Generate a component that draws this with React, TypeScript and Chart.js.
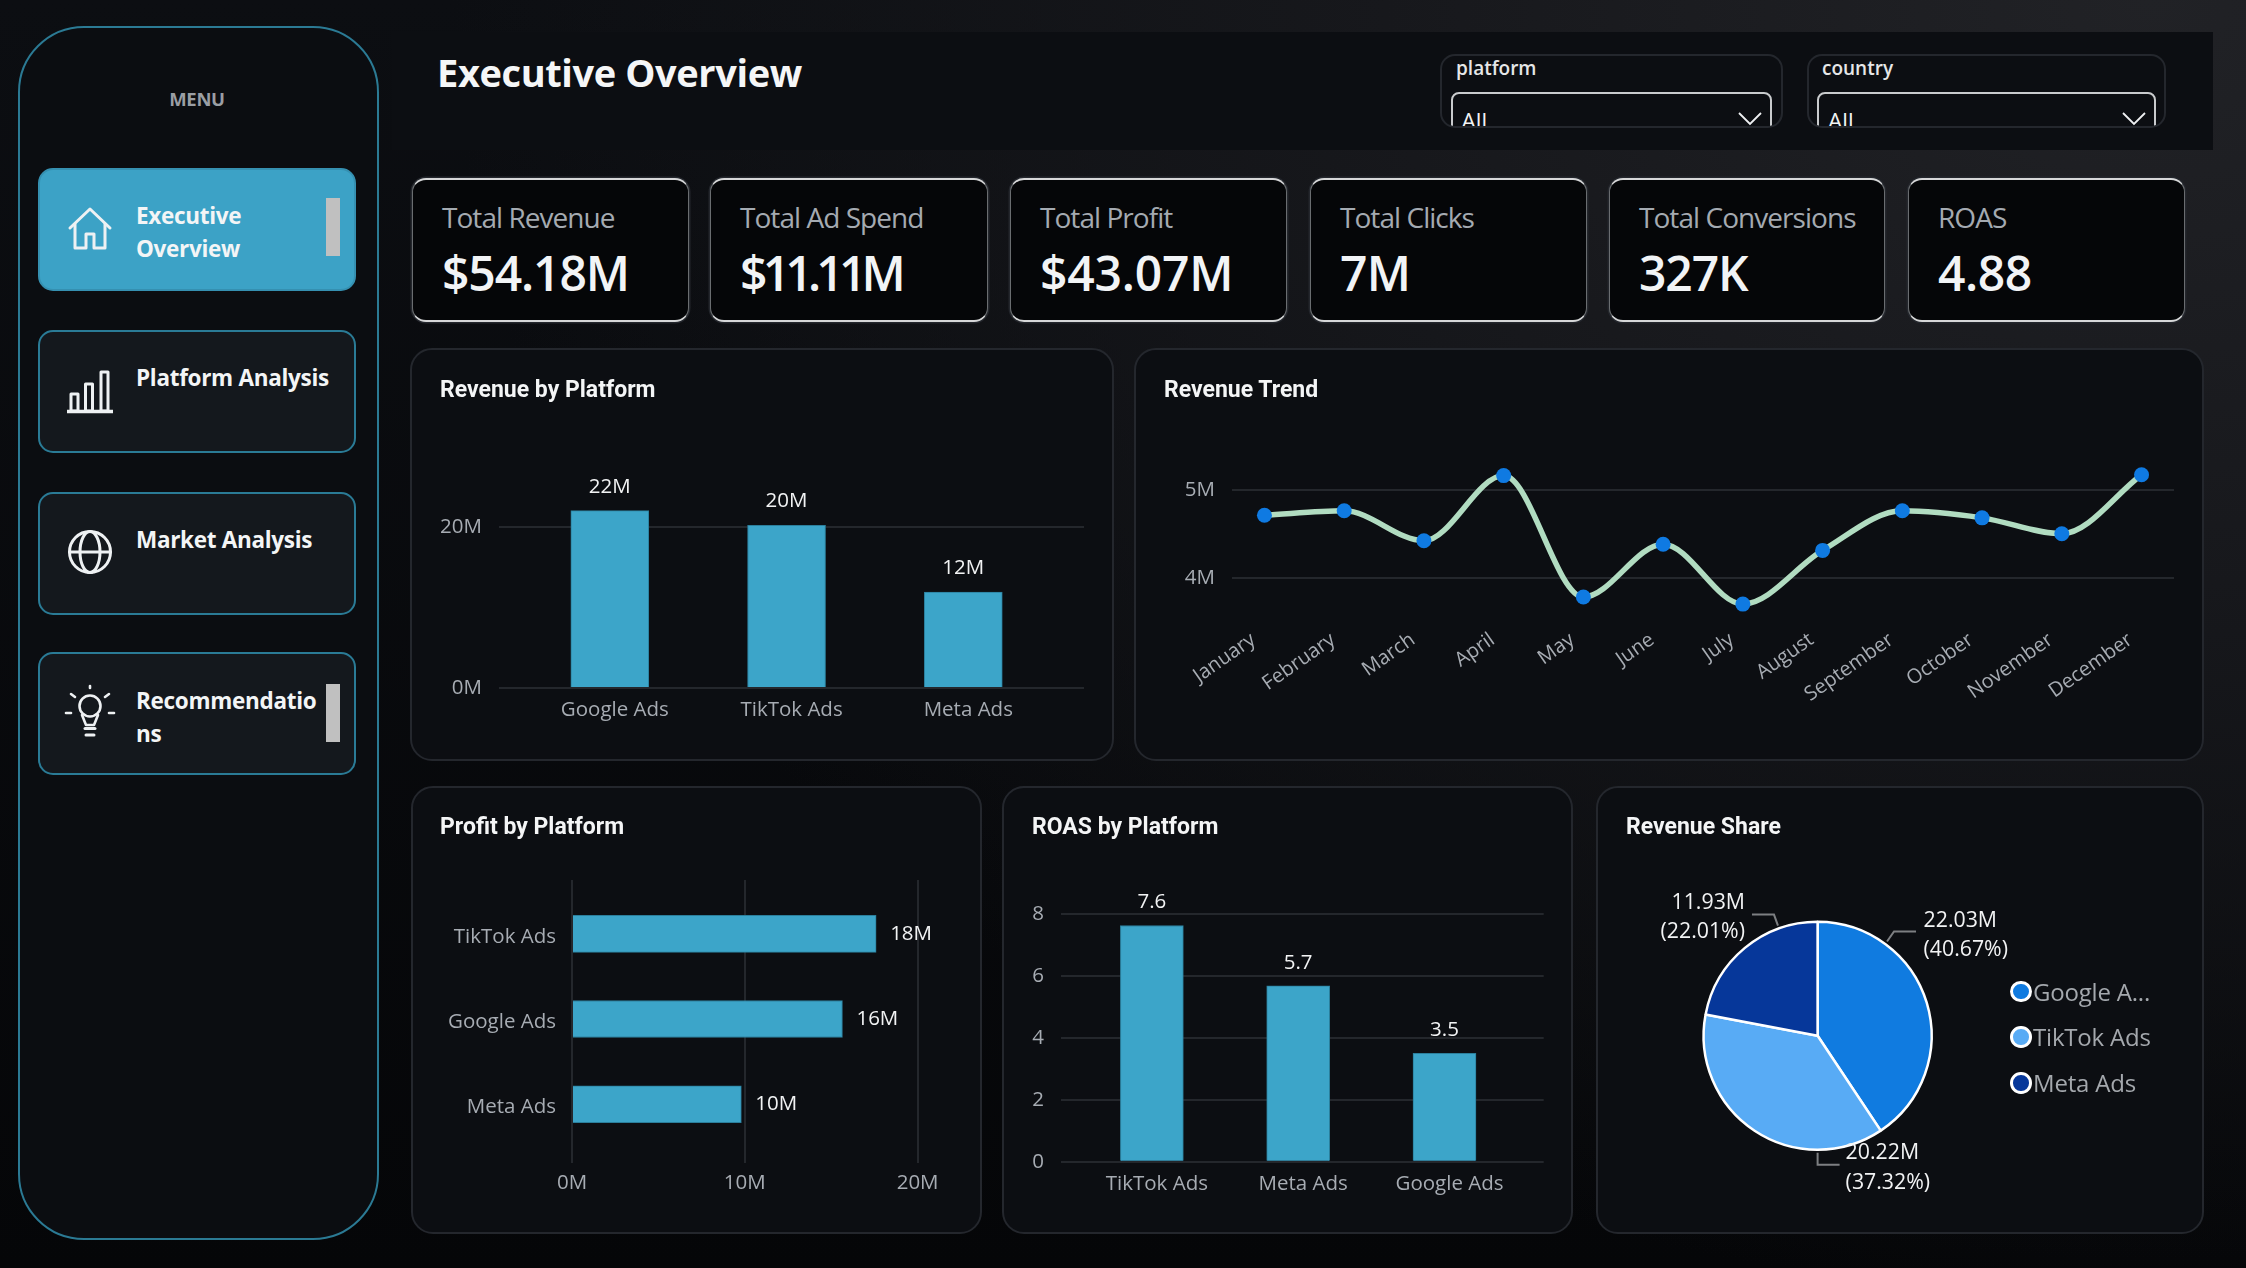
import React, { useEffect, useRef } from "react";
import { Chart, registerables } from "chart.js";

Chart.register(...registerables);

const FONT = '"Open Sans", sans-serif';
const TITLE_FONT = 'Roboto, sans-serif';

const revenueCategories = ["Google Ads", "TikTok Ads", "Meta Ads"];
const revenueValues = [22.03, 20.22, 11.93];
const months = ["January", "February", "March", "April", "May", "June", "July", "August", "September", "October", "November", "December"];
const trendValues = [4.71, 4.76, 4.42, 5.16, 3.78, 4.38, 3.7, 4.31, 4.76, 4.68, 4.5, 5.17];
const profitCategories = ["TikTok Ads", "Google Ads", "Meta Ads"];
const profitValues = [17.6, 15.65, 9.8];
const roasCategories = ["TikTok Ads", "Meta Ads", "Google Ads"];
const roasValues = [7.63, 5.68, 3.5];
const shareCategories = ["Google Ads", "TikTok Ads", "Meta Ads"];
const shareLegend = ["Google A...", "TikTok Ads", "Meta Ads"];
const shareValues = [22.03, 20.22, 11.93];
const sharePercents = ["40.67", "37.32", "22.01"];
const shareColors = ["#107be0", "#58abf5", "#06379a"];
const kpiLabels = ["Total Revenue", "Total Ad Spend", "Total Profit", "Total Clicks", "Total Conversions", "ROAS"];
const kpiValues = ["$54.18M", "$11.11M", "$43.07M", "7M", "327K", "4.88"];
const kpiLefts = [412, 710, 1010, 1310, 1609, 1908];
const kpiWidths = [277, 278, 277, 277, 276, 277];
const kpiValueSpacing = [-1.1, -4.8, -0.2, -0.8, -1.1, -0.4];

const TICK = "#a7acb3";
const GRID = "#24272c";
const BAR = "#3ca5c9";
const BAR_EDGE = "#2b7f9c";
const LABEL = "#f2f3f4";

type Rect = { x0: number; y0: number; x1: number; y1: number };

const abs = (x: number, y: number, w: number, h: number): React.CSSProperties => ({ position: "absolute", left: x, top: y, width: w, height: h, boxSizing: "border-box" });

function fixTicks(values: number[]) {
  return (axis: any) => { axis.ticks = values.map((value) => ({ value })); };
}

function frame(panel: Rect, plot: Rect) {
  return {
    padding: { top: plot.y0 - panel.y0, right: panel.x1 - plot.x1, left: 0, bottom: 0 },
    yFit: (s: any) => { s.width = plot.x0 - panel.x0; },
    xFit: (s: any) => { s.height = panel.y1 - plot.y1; },
  };
}

function valueLabels(text: (v: number) => string, horizontal = false, gap = 17) {
  return {
    id: "valueLabels",
    afterDatasetsDraw(chart: any) {
      const ctx = chart.ctx;
      const meta = chart.getDatasetMeta(0);
      ctx.save();
      ctx.fillStyle = LABEL;
      ctx.font = `20.5px ${FONT}`;
      meta.data.forEach((el: any, i: number) => {
        const raw = chart.data.datasets[0].data[i];
        const v = horizontal ? raw.x : raw.y;
        if (horizontal) {
          ctx.textAlign = "left";
          ctx.textBaseline = "middle";
          ctx.fillText(text(v), el.x + gap, el.y);
        } else {
          ctx.textAlign = "center";
          ctx.textBaseline = "alphabetic";
          ctx.fillText(text(v), el.x, el.y - gap);
        }
      });
      ctx.restore();
    },
  };
}

function usePanelChart(build: () => any) {
  const ref = useRef<HTMLCanvasElement>(null);
  useEffect(() => {
    const chart = new Chart(ref.current as HTMLCanvasElement, build());
    return () => chart.destroy();
  }, []);
  return ref;
}

const tickFont = { family: FONT, size: 20.5 };

function revenueConfig(panel: Rect) {
  const plot = { x0: 499, y0: 446.5, x1: 1084, y1: 688 };
  const f = frame(panel, plot);
  return {
    type: "bar",
    data: { datasets: [{ data: revenueValues.map((y, x) => ({ x, y })), backgroundColor: BAR, borderColor: BAR_EDGE, borderWidth: 1, barThickness: 78 }] },
    options: {
      responsive: false, animation: false, layout: { padding: f.padding },
      plugins: { legend: { display: false }, tooltip: { enabled: false } },
      scales: {
        x: { type: "linear", offset: false, min: -0.627, max: 2.683, afterBuildTicks: fixTicks([0, 1, 2]), afterFit: f.xFit, grid: { display: false, offset: false }, border: { display: false },
          ticks: { color: TICK, font: tickFont, padding: 2, labelOffset: 5, maxRotation: 0, autoSkip: false, callback: (v: number) => revenueCategories[v] } },
        y: { min: 0, max: 30, afterBuildTicks: fixTicks([0, 20]), afterFit: f.yFit, grid: { color: GRID, lineWidth: 2, drawTicks: false }, border: { display: false },
          ticks: { color: TICK, font: tickFont, padding: 17, callback: (v: number) => `${v}M` } },
      },
    },
    plugins: [valueLabels((v) => `${Math.round(v)}M`, false, 18)],
  };
}

function trendConfig(panel: Rect) {
  const plot = { x0: 1232, y0: 436, x1: 2174, y1: 620 };
  const f = frame(panel, plot);
  const perM = 88;
  const minV = 4 - (plot.y1 - 577.7) / perM;
  const maxV = 5 + (489.7 - plot.y0) / perM;
  return {
    type: "line",
    data: { datasets: [{ data: trendValues.map((y, x) => ({ x, y })), borderColor: "#b1dcc1", borderWidth: 5.5, cubicInterpolationMode: "monotone", pointRadius: 7.5, pointBackgroundColor: "#0f7ae2", pointBorderColor: "#0f7ae2", pointBorderWidth: 0, clip: false }] },
    options: {
      responsive: false, animation: false, layout: { padding: f.padding },
      plugins: { legend: { display: false }, tooltip: { enabled: false } },
      scales: {
        x: { type: "linear", min: -0.407, max: 11.407, afterBuildTicks: fixTicks(months.map((_, i) => i)), afterFit: f.xFit, grid: { display: false }, border: { display: false },
          ticks: { color: TICK, font: { family: FONT, size: 20 }, padding: 0, labelOffset: -11, minRotation: 35, maxRotation: 35, autoSkip: false, callback: (v: number) => months[v] } },
        y: { min: minV, max: maxV, afterBuildTicks: fixTicks([4, 5]), afterFit: f.yFit, grid: { color: GRID, lineWidth: 2, drawTicks: false }, border: { display: false },
          ticks: { color: TICK, font: tickFont, padding: 17, callback: (v: number) => `${v}M` } },
      },
    },
  };
}

function profitConfig(panel: Rect) {
  const plot = { x0: 572, y0: 880, x1: 917.6, y1: 1163 };
  const f = frame(panel, plot);
  return {
    type: "bar",
    data: { datasets: [{ data: profitValues.map((x, y) => ({ x, y })), backgroundColor: BAR, borderColor: BAR_EDGE, borderWidth: 1, barThickness: 37 }] },
    options: {
      indexAxis: "y",
      responsive: false, animation: false, layout: { padding: f.padding },
      plugins: { legend: { display: false }, tooltip: { enabled: false } },
      scales: {
        x: { min: 0, max: 20, afterBuildTicks: fixTicks([0, 10, 20]), afterFit: f.xFit, grid: { color: GRID, lineWidth: 2, drawTicks: false }, border: { display: false },
          ticks: { color: TICK, font: tickFont, padding: 7.5, maxRotation: 0, callback: (v: number) => `${v}M` } },
        y: { type: "linear", offset: false, reverse: true, min: -0.632, max: 2.69, afterBuildTicks: fixTicks([0, 1, 2]), afterFit: f.yFit, grid: { display: false, offset: false }, border: { display: false },
          ticks: { color: TICK, font: tickFont, padding: 8, labelOffset: 3, autoSkip: false, callback: (v: number) => profitCategories[v] } },
      },
    },
    plugins: [valueLabels((v) => `${Math.round(v)}M`, true, 14)],
  };
}

function roasConfig(panel: Rect) {
  const plot = { x0: 1061, y0: 914, x1: 1543.7, y1: 1161.7 };
  const f = frame(panel, plot);
  return {
    type: "bar",
    data: { datasets: [{ data: roasValues.map((y, x) => ({ x, y })), backgroundColor: BAR, borderColor: BAR_EDGE, borderWidth: 1, barThickness: 63 }] },
    options: {
      responsive: false, animation: false, layout: { padding: f.padding },
      plugins: { legend: { display: false }, tooltip: { enabled: false } },
      scales: {
        x: { type: "linear", offset: false, min: -0.621, max: 2.678, afterBuildTicks: fixTicks([0, 1, 2]), afterFit: f.xFit, grid: { display: false, offset: false }, border: { display: false },
          ticks: { color: TICK, font: tickFont, padding: 2, labelOffset: 5, maxRotation: 0, autoSkip: false, callback: (v: number) => roasCategories[v] } },
        y: { min: 0, max: 8, afterBuildTicks: fixTicks([0, 2, 4, 6, 8]), afterFit: f.yFit, grid: { color: GRID, lineWidth: 2, drawTicks: false }, border: { display: false },
          ticks: { color: TICK, font: tickFont, padding: 17, callback: (v: number) => `${v}` } },
      },
    },
    plugins: [valueLabels((v) => v.toFixed(1), false, 17)],
  };
}

const leader = [
  { deg: 36.4, ox: 7, oy: -10, run: 22, tx: 29.5, align: "left" as const, y1: 926.7, y2: 955.7 },
  { deg: 180, ox: 0, oy: 12, run: 22, tx: 28, align: "left" as const, y1: 1159, y2: 1189 },
  { deg: -19.8, ox: -4, oy: -11, run: -22, tx: -29, align: "right" as const, y1: 909, y2: 938 },
];

const pieLabels = {
  id: "pieLabels",
  afterDatasetsDraw(chart: any) {
    const ctx = chart.ctx;
    const arc = chart.getDatasetMeta(0).data[0];
    const top = chart.canvas.offsetTop;
    const r = arc.outerRadius + 3;
    ctx.save();
    leader.forEach((l, i) => {
      const a = (l.deg * Math.PI) / 180;
      const sx = arc.x + r * Math.sin(a);
      const sy = arc.y - r * Math.cos(a);
      const mx = sx + l.ox;
      const my = sy + l.oy;
      ctx.strokeStyle = "#7d7f82";
      ctx.lineWidth = 2;
      ctx.beginPath();
      ctx.moveTo(sx, sy);
      ctx.lineTo(mx, my);
      ctx.lineTo(mx + l.run, my);
      ctx.stroke();
      ctx.fillStyle = LABEL;
      ctx.font = `21.3px ${FONT}`;
      ctx.textAlign = l.align;
      ctx.textBaseline = "alphabetic";
      const tx = mx + l.tx;
      ctx.fillText(`${shareValues[i].toFixed(2)}M`, tx, l.y1 - top);
      ctx.fillText(`(${sharePercents[i]}%)`, tx, l.y2 - top);
    });
    ctx.restore();
  },
};

function shareConfig(panel: Rect) {
  const cx = 1817.6, cy = 1035.7, half = 115.25;
  return {
    type: "pie",
    data: { labels: shareCategories, datasets: [{ data: shareValues, backgroundColor: shareColors, borderColor: "#ffffff", borderWidth: 2.5 }] },
    options: {
      responsive: false, animation: false,
      layout: { padding: { left: cx - half - panel.x0, right: panel.x1 - cx - half, top: cy - half - panel.y0, bottom: panel.y1 - cy - half } },
      plugins: { legend: { display: false }, tooltip: { enabled: false } },
    },
    plugins: [pieLabels],
  };
}

function Panel({ box, title, titleX, titleY, build, children }: any) {
  const ref = usePanelChart(() => build(box));
  const w = box.x1 - box.x0, h = box.y1 - box.y0;
  return (
    <>
      <div style={{ ...abs(box.x0, box.y0, w, h), background: "#0c0e12", border: "2px solid #24272d", borderRadius: 22 }} />
      <canvas ref={ref} width={w} height={h} style={{ position: "absolute", left: box.x0, top: box.y0, width: w, height: h }} />
      <div style={{ position: "absolute", left: titleX, top: titleY - 21, height: 28, lineHeight: "28px", font: `700 23px ${TITLE_FONT}`, color: "#f4f5f6", whiteSpace: "nowrap" }}>{title}</div>
      {children}
    </>
  );
}

function Icon({ kind }: { kind: string }) {
  const common = { fill: "none", stroke: "#eef1f3", strokeWidth: 3, strokeLinecap: "round" as const, strokeLinejoin: "round" as const };
  if (kind === "home") return (
    <svg style={{ position: "absolute", left: 64, top: 204 }} width="52" height="50" viewBox="0 0 52 50" {...common}>
      <path d="M6 24 L26 5 L46 24" /><path d="M11 20 V44 H22 V30 H30 V44 H41 V20" />
    </svg>
  );
  if (kind === "bars") return (
    <svg style={{ position: "absolute", left: 64, top: 366 }} width="52" height="50" viewBox="0 0 52 50" {...common} strokeLinecap="butt">
      <path d="M3 45.5 H49" strokeWidth="3.5" /><rect x="7" y="28" width="7" height="17" /><rect x="21.5" y="18" width="7" height="27" /><rect x="37" y="6" width="7" height="39" />
    </svg>
  );
  if (kind === "globe") return (
    <svg style={{ position: "absolute", left: 64, top: 526 }} width="52" height="52" viewBox="0 0 52 52" {...common}>
      <circle cx="26" cy="26" r="20.5" /><ellipse cx="26" cy="26" rx="10" ry="20.5" /><path d="M5.5 26 H46.5" />
    </svg>
  );
  return (
    <svg style={{ position: "absolute", left: 62, top: 684 }} width="56" height="56" viewBox="0 0 56 56" {...common} strokeWidth="2.6">
      <path d="M28 2 V4" /><path d="M9 10 L13 13" /><path d="M47 10 L43 13" /><path d="M4 29 H9" /><path d="M47 29 H52" />
      <circle cx="28" cy="22" r="10.5" /><path d="M20 31 L24 41 H32 L36 31" /><path d="M23 44.5 H33" strokeWidth="3" /><path d="M24 51 H32" strokeWidth="3" />
    </svg>
  );
}

const navItems = [
  { y: 168, h: 123, lines: ["Executive", "Overview"], base: 224, icon: "home", active: true, mark: 198 },
  { y: 330, h: 123, lines: ["Platform Analysis"], base: 386, icon: "bars", active: false, mark: 0 },
  { y: 492, h: 123, lines: ["Market Analysis"], base: 547.5, icon: "globe", active: false, mark: 0 },
  { y: 652, h: 123, lines: ["Recommendatio", "ns"], base: 709, icon: "bulb", active: false, mark: 684 },
];

function Nav() {
  return (
    <>
      <div style={{ ...abs(18, 26, 361, 1214), background: "#0b0d11", border: "2px solid #2b7a94", borderRadius: 66 }} />
      <div style={{ position: "absolute", left: 18, width: 358, top: 88, textAlign: "center", font: `700 18.5px/22px ${FONT}`, color: "#9a9ea4", letterSpacing: -0.3 }}>MENU</div>
      {navItems.map((n) => (
        <React.Fragment key={n.icon}>
          <div style={{ ...abs(38, n.y, 318, n.h), background: n.active ? "#3ca2c6" : "#14181d", border: `2px solid ${n.active ? "#3590b1" : "#2a7b96"}`, borderRadius: 15 }} />
          <Icon kind={n.icon} />
          {n.lines.map((t, i) => (
            <div key={t} style={{ position: "absolute", left: 136, top: n.base - 25 + i * 33, font: `700 22.5px/33px ${FONT}`, color: "#f3f5f6", whiteSpace: "nowrap", letterSpacing: -0.3 }}>{t}</div>
          ))}
          {n.mark ? <div style={{ ...abs(326, n.mark, 14, 58), background: "#c0c0c0" }} /> : null}
        </React.Fragment>
      ))}
    </>
  );
}

function Slicer({ label, x0, x1, ix0, ix1, lx, ax, cx }: any) {
  return (
    <div style={{ ...abs(x0, 54, x1 - x0, 74), border: "2px solid #24272d", borderRadius: 15, overflow: "hidden", background: "#0c0e12" }}>
      <div style={{ position: "absolute", left: lx - x0 - 2, top: 0, font: `600 19px/24px ${FONT}`, color: "#e6e7e8" }}>{label}</div>
      <div style={{ position: "absolute", left: ix0 - x0 - 2, top: 36, width: ix1 - ix0, height: 60, boxSizing: "border-box", border: "2px solid #c9cbcd", borderRadius: 8 }} />
      <div style={{ position: "absolute", left: ax - x0 - 3, top: 50, font: `400 22.5px/30px ${FONT}`, color: "#f2f3f4" }}>All</div>
      <svg style={{ position: "absolute", left: cx - x0 - 2, top: 56 }} width="24" height="14" viewBox="0 0 24 14" fill="none" stroke="#eef0f2" strokeWidth="1.8"><path d="M1 1 L12 12 L23 1" /></svg>
    </div>
  );
}

export default function App() {
  const panels = {
    revenue: { x0: 410, y0: 348, x1: 1114, y1: 761 },
    trend: { x0: 1134, y0: 348, x1: 2204, y1: 761 },
    profit: { x0: 411, y0: 786, x1: 982, y1: 1234 },
    roas: { x0: 1002, y0: 786, x1: 1573, y1: 1234 },
    share: { x0: 1596, y0: 786, x1: 2204, y1: 1234 },
  };
  return (
    <div style={{ position: "relative", width: 2246, height: 1268, overflow: "hidden", background: "radial-gradient(ellipse 1700px 1300px at 2150px 0px, #212226 0%, #17181c 45%, rgba(12,13,16,0) 100%), linear-gradient(180deg, #0c0e12 0%, #050608 100%)" }}>
      <style>{"body{margin:0;background:#08090c}"}</style>
      <Nav />
      <div style={{ ...abs(392, 32, 1821, 118), background: "#0c0e12" }} />
      <div style={{ position: "absolute", left: 437, top: 47, font: `700 38px/50px ${FONT}`, color: "#f5f6f7", whiteSpace: "nowrap", letterSpacing: -0.4 }}>Executive Overview</div>
      <Slicer label="platform" x0={1440} x1={1783} ix0={1450.5} ix1={1772} lx={1456} ax={1462.5} cx={1738} />
      <Slicer label="country" x0={1806.5} x1={2166} ix0={1817} ix1={2155.5} lx={1822} ax={1829} cx={2122} />
      {kpiLabels.map((k, i) => (
        <React.Fragment key={k}>
          <div style={{ ...abs(kpiLefts[i], 178, kpiWidths[i], 144), background: "#050608", borderRadius: 14, border: "1px solid #6a6d70", borderTop: "2px solid #d6d7d8", borderBottom: "2px solid #d6d7d8", boxShadow: "0 0 0 1.5px #24272d" }} />
          <div style={{ position: "absolute", left: kpiLefts[i] + 30, top: 197, font: `400 28px/40px ${FONT}`, color: "#a4aab1", whiteSpace: "nowrap", letterSpacing: -0.95 }}>{k}</div>
          <div style={{ position: "absolute", left: kpiLefts[i] + 30, top: 241, font: `600 48px/64px ${FONT}`, color: "#f2f4f6", whiteSpace: "nowrap", letterSpacing: kpiValueSpacing[i] }}>{kpiValues[i]}</div>
        </React.Fragment>
      ))}
      <Panel box={panels.revenue} title="Revenue by Platform" titleX={440} titleY={397} build={revenueConfig} />
      <Panel box={panels.trend} title="Revenue Trend" titleX={1164} titleY={397} build={trendConfig} />
      <Panel box={panels.profit} title="Profit by Platform" titleX={440} titleY={834} build={profitConfig} />
      <Panel box={panels.roas} title="ROAS by Platform" titleX={1032} titleY={834} build={roasConfig} />
      <Panel box={panels.share} title="Revenue Share" titleX={1626} titleY={834} build={shareConfig}>
        {shareLegend.map((t, i) => (
          <React.Fragment key={t}>
            <div style={{ ...abs(2010, 980.5 + i * 45.8, 21.5, 21.5), borderRadius: "50%", background: shareColors[i], border: "3px solid #ffffff" }} />
            <div style={{ position: "absolute", left: 2033, top: 975.5 + i * 45.8, font: `400 24px/32px ${FONT}`, color: "#a4a8ad", whiteSpace: "nowrap", letterSpacing: -0.2 }}>{t}</div>
          </React.Fragment>
        ))}
      </Panel>
    </div>
  );
}
